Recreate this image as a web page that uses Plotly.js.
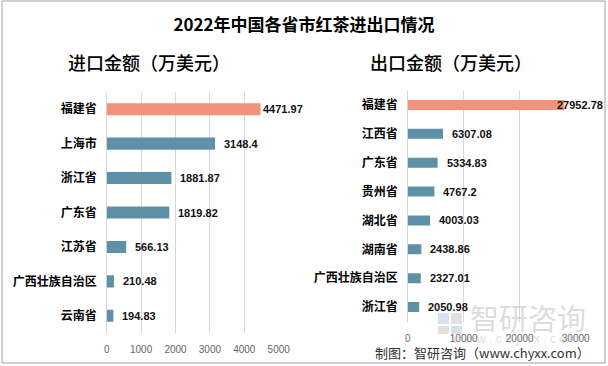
<!DOCTYPE html>
<html>
<head>
<meta charset="utf-8">
<script src="https://cdn.plot.ly/plotly-3.0.1.min.js"></script>
<style>html,body{margin:0;padding:0;background:#fff;}#chart{width:608px;height:366px;}</style>
</head>
<body>
<div id="chart"></div>
<script>
// ---- data ----
const importProvinces = ["福建省", "上海市", "浙江省", "广东省", "江苏省", "广西壮族自治区", "云南省"];
const importValues = [4471.97, 3148.4, 1881.87, 1819.82, 566.13, 210.48, 194.83];
const exportProvinces = ["福建省", "江西省", "广东省", "贵州省", "湖北省", "湖南省", "广西壮族自治区", "浙江省"];
const exportValues = [27952.78, 6307.08, 5334.83, 4767.2, 4003.03, 2438.86, 2327.01, 2050.98];
const importTicks = [0, 1000, 2000, 3000, 4000, 5000];
const exportTicks = [0, 10000, 20000, 30000];

const W = 608, H = 366;
const px = v => v / W;
const py = v => 1 - v / H;

const ORANGE = "#F0937A", TEAL = "#5E91A8";
const colorsFor = arr => arr.map((_, i) => i === 0 ? ORANGE : TEAL);

const traces = [
  {type: "bar", orientation: "h", x: importValues, y: importProvinces, xaxis: "x", yaxis: "y",
   marker: {color: colorsFor(importValues)}, hoverinfo: "none"},
  {type: "bar", orientation: "h", x: exportValues, y: exportProvinces, xaxis: "x2", yaxis: "y2",
   marker: {color: colorsFor(exportValues)}, hoverinfo: "none"}
];

const labelFont = {family: "Liberation Sans, Arial, sans-serif", size: 11, color: "#111", weight: "bold"};
const annotations = [];
importValues.forEach((v, i) => {
  annotations.push({xref: "x", yref: "y", x: v, y: importProvinces[i], text: String(v),
    showarrow: false, xanchor: "left", xshift: i === 0 ? 0 : 7, font: labelFont});
});
exportValues.forEach((v, i) => {
  annotations.push({xref: "x2", yref: "y2", x: v, y: exportProvinces[i], text: String(v),
    showarrow: false, xanchor: "left", xshift: i === 0 ? -9 : 7, font: labelFont});
});
const cjk = "Noto Sans CJK SC, sans-serif";
annotations.push(
  {xref: "paper", yref: "paper", x: px(468), y: py(317), text: "智研咨询", showarrow: false,
   xanchor: "left", yanchor: "middle", font: {family: cjk, size: 29, color: "rgba(175,175,175,0.45)"}},
  {xref: "paper", yref: "paper", x: px(515), y: py(339), text: "w w w . c h y x x . c o m", showarrow: false,
   xanchor: "center", yanchor: "middle", font: {family: "Liberation Sans, sans-serif", size: 12, color: "rgba(190,190,190,0.5)"}},
  {xref: "paper", yref: "paper", x: px(149), y: py(62), text: "进口金额（万美元）", showarrow: false,
   xanchor: "center", yanchor: "middle", font: {family: cjk, size: 18, color: "#000", weight: 500}},
  {xref: "paper", yref: "paper", x: px(451), y: py(62), text: "出口金额（万美元）", showarrow: false,
   xanchor: "center", yanchor: "middle", font: {family: cjk, size: 18, color: "#000", weight: 500}},
  {xref: "paper", yref: "paper", x: px(592), y: py(352), text: "制图：智研咨询（www.chyxx.com）", showarrow: false,
   xanchor: "right", yanchor: "middle", font: {family: cjk, size: 13, color: "#333"}}
);

const shapes = [
  {type: "rect", xref: "paper", yref: "paper", x0: px(2), x1: px(605), y0: py(363), y1: py(1),
   line: {color: "#a0a0a0", width: 1}, fillcolor: "rgba(0,0,0,0)"},
  // watermark logo
  {type: "rect", xref: "paper", yref: "paper", x0: px(438), x1: px(449), y0: py(324), y1: py(313),
   line: {width: 0}, fillcolor: "rgba(150,180,210,0.4)"},
  {type: "rect", xref: "paper", yref: "paper", x0: px(451), x1: px(462), y0: py(324), y1: py(313),
   line: {width: 0}, fillcolor: "rgba(170,170,170,0.35)"},
  {type: "rect", xref: "paper", yref: "paper", x0: px(438), x1: px(449), y0: py(334), y1: py(326),
   line: {width: 0}, fillcolor: "rgba(170,170,170,0.35)"},
  {type: "rect", xref: "paper", yref: "paper", x0: px(451), x1: px(462), y0: py(334), y1: py(326),
   line: {width: 0}, fillcolor: "rgba(150,180,210,0.4)"}
];

const xTickFont = {family: "Liberation Sans, Arial, sans-serif", size: 10, color: "#666"};
const yTickFont = {family: cjk, size: 12, color: "#000", weight: "bold"};

const layout = {
  width: W, height: H,
  margin: {l: 0, r: 0, t: 0, b: 0},
  paper_bgcolor: "#fff", plot_bgcolor: "#fff",
  showlegend: false,
  bargap: 0.65,
  title: {text: "2022年中国各省市红茶进出口情况", x: 0.5, xanchor: "center", y: py(25), yanchor: "middle",
    font: {family: cjk, size: 17, color: "#000", weight: "bold"}},
  xaxis: {domain: [px(106.7), px(278.7)], range: [0, 5000], tickvals: importTicks, ticktext: importTicks.map(String),
    showgrid: true, gridcolor: "#d9d9d9", gridwidth: 1, zeroline: true, zerolinecolor: "#d9d9d9",
    showline: false, ticks: "", ticklabelstandoff: 9, tickfont: xTickFont, anchor: "y", fixedrange: true},
  yaxis: {domain: [py(333), py(92)], autorange: "reversed", type: "category", showgrid: false, zeroline: false,
    ticks: "", ticklabelstandoff: 9, tickfont: yTickFont, anchor: "x", fixedrange: true},
  xaxis2: {domain: [px(407.7), px(575.7)], range: [0, 30000], tickvals: exportTicks, ticktext: exportTicks.map(String),
    showgrid: true, gridcolor: "#d9d9d9", gridwidth: 1, zeroline: true, zerolinecolor: "#d9d9d9",
    showline: false, ticks: "", ticklabelstandoff: 9, tickfont: xTickFont, anchor: "y2", fixedrange: true},
  yaxis2: {domain: [py(321.5), py(90.5)], autorange: "reversed", type: "category", showgrid: false, zeroline: false,
    ticks: "", ticklabelstandoff: 9, tickfont: yTickFont, anchor: "x2", fixedrange: true},
  annotations: annotations,
  shapes: shapes
};

Plotly.newPlot("chart", traces, layout, {staticPlot: true, displayModeBar: false});
</script>
</body>
</html>
